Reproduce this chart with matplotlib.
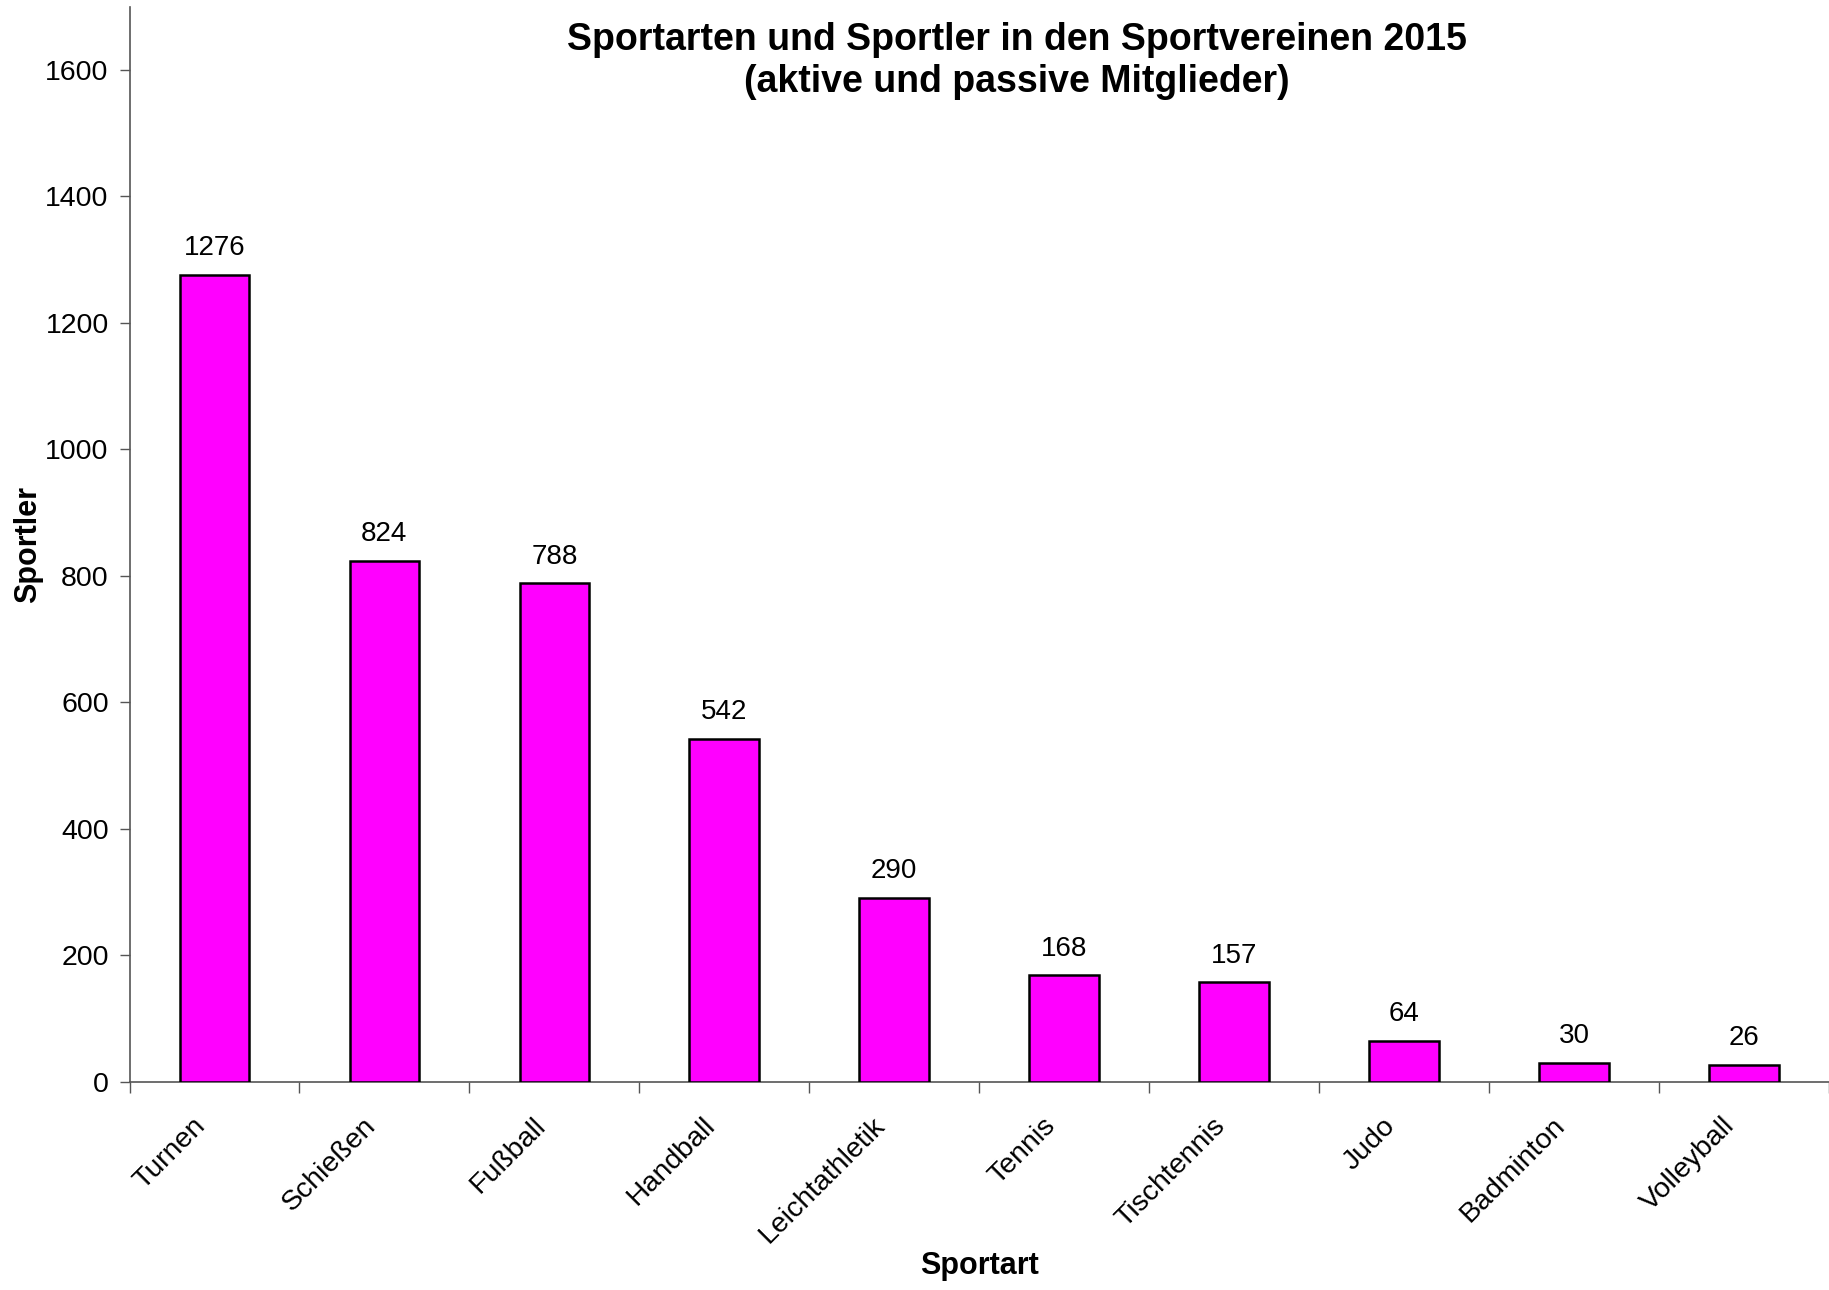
import matplotlib
matplotlib.use("Agg")
import matplotlib.pyplot as plt
from matplotlib.transforms import ScaledTranslation
import numpy as np

sportarten = ["Turnen", "Schießen", "Fußball", "Handball", "Leichtathletik",
              "Tennis", "Tischtennis", "Judo", "Badminton", "Volleyball"]
sportler = [1276, 824, 788, 542, 290, 168, 157, 64, 30, 26]
y_ticks = [0, 200, 400, 600, 800, 1000, 1200, 1400, 1600]

plt.rcParams['font.family'] = ['Liberation Sans', 'DejaVu Sans']

fig = plt.figure(figsize=(18.29, 12.90), dpi=100)
ax = fig.add_axes([129.5 / 1829, 1 - 1081.7 / 1290, (1829 - 129.5) / 1829, (1081.7 - 6.7) / 1290])

x = np.arange(len(sportarten))
ax.bar(x, sportler, width=0.41, color='#FF00FF', edgecolor='black', linewidth=1.8, zorder=3)

for xi, v in zip(x, sportler):
    ax.annotate(str(v), (xi, v), xytext=(0, 10), textcoords='offset points',
                ha='center', va='bottom', fontsize=20)

ax.set_xlim(-0.5, len(sportarten) - 0.5)
ax.set_ylim(0, 1700)
ax.set_yticks(y_ticks)
ax.tick_params(axis='y', labelsize=20.5, length=7, width=1, color='#555555', pad=8)

# ticks on the category boundaries, labels in the middle
ax.set_xticks(np.arange(len(sportarten) + 1) - 0.5)
ax.set_xticklabels([])
ax.tick_params(axis='x', which='major', length=8, width=1, color='#555555')
ax.set_xticks(x, minor=True)
ax.set_xticklabels(sportarten, minor=True, rotation=45, ha='right', va='center',
                   rotation_mode='anchor', fontsize=20.5)
ax.tick_params(axis='x', which='minor', length=0, pad=29)
shift = ScaledTranslation(-0.13, 0, fig.dpi_scale_trans)
for lab in ax.get_xticklabels(minor=True):
    lab.set_transform(lab.get_transform() + shift)

for s in ['top', 'right']:
    ax.spines[s].set_visible(False)
for s in ['left', 'bottom']:
    ax.spines[s].set_color('#555555')
    ax.spines[s].set_linewidth(1.2)

ax.set_ylabel("Sportler", fontsize=22, fontweight='bold')
ax.set_xlabel("Sportart", fontsize=22, fontweight='bold')
ax.xaxis.set_label_coords(0.5, -(1251 - 1081.7) / (1081.7 - 6.7))
ax.yaxis.set_label_coords(-(129.5 - 43) / (1829 - 129.5), 0.5)

fig.text(1017 / 1829, 1 - 61 / 1290,
         "Sportarten und Sportler in den Sportvereinen 2015\n(aktive und passive Mitglieder)",
         ha='center', va='center', fontsize=27, fontweight='bold', linespacing=1.25)

fig.savefig("out.png", dpi=100)
